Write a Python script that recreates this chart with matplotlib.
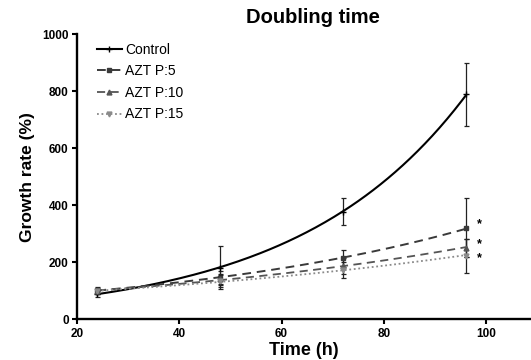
"""
Doubling time: growth rate (%) over time for control and AZT passages.

Points are means with error bars, curves are exponential fits through them.

Output:
    out.png
"""

import numpy as np
import matplotlib
matplotlib.use("Agg")
import matplotlib.pyplot as plt
from matplotlib.lines import Line2D


# ---------------------------------------------------------------------
# Plot style
# ---------------------------------------------------------------------

plt.rcParams.update({
    "font.family": ["Liberation Sans", "DejaVu Sans"],
    "axes.linewidth": 1.7,
    "axes.spines.top": False,
    "axes.spines.right": False,
})


# ---------------------------------------------------------------------
# Data
# ---------------------------------------------------------------------

time_h = [24, 48, 72, 96]

series_names = ["Control", "AZT P:5", "AZT P:10", "AZT P:15"]

control_mean = [89, 181, 377, 789]
control_err = [10, 76, 47, 111]

azt5_mean = [102, 146, 214, 321]
azt5_err = [10, 22, 30, 104]

azt10_mean = [100, 140, 187, 251]
azt10_err = [10, 20, 28, 31]

azt15_mean = [98, 135, 173, 222]
azt15_err = [10, 20, 28, 60]

# significance stars at 96 h, one per AZT series
star_x = 98.8
star_y = [334, 264, 214]

x_ticks = [20, 40, 60, 80, 100]
y_ticks = [0, 200, 400, 600, 800, 1000]


# ---------------------------------------------------------------------
# Plot
# ---------------------------------------------------------------------

means = [control_mean, azt5_mean, azt10_mean, azt15_mean]
errors = [control_err, azt5_err, azt10_err, azt15_err]

styles = [
    dict(color="black", ls="-", marker="+", ms=4, lw=1.5),
    dict(color="#3a3a3a", ls=(0, (4.5, 3)), marker="s", ms=3.5, lw=1.4),
    dict(color="#555555", ls=(0, (4.5, 3)), marker="^", ms=3.5, lw=1.3),
    dict(color="#8a8a8a", ls=(0, (1, 1.5)), marker="v", ms=3.5, lw=1.3),
]

fig = plt.figure(figsize=(5.31, 3.6), dpi=100)
ax = fig.add_axes([0.145, 0.113, 0.855, 0.792])

t = np.array(time_h, dtype=float)
t_fine = np.linspace(t.min(), t.max(), 200)

for mean, err, st in zip(means, errors, styles):
    y = np.array(mean, dtype=float)

    # exponential fit through the means
    k, log_a = np.polyfit(t, np.log(y), 1)
    ax.plot(t_fine, np.exp(log_a + k * t_fine), color=st["color"],
            linestyle=st["ls"], linewidth=st["lw"], zorder=2)

    ax.errorbar(t, y, yerr=err, fmt=st["marker"], color=st["color"],
                ms=st["ms"], ecolor="#222222", elinewidth=0.9,
                capsize=1.8, capthick=0.9, zorder=3)

for sy in star_y:
    ax.text(star_x, sy, "*", ha="center", va="center",
            fontsize=9, fontweight="bold")

ax.set_xlim(20, 108.8)
ax.set_ylim(0, 1000)
ax.set_xticks(x_ticks)
ax.set_yticks(y_ticks)
ax.tick_params(axis="both", direction="out", length=3.5, width=1.5,
               labelsize=8.5, pad=2.5)
for label in ax.get_xticklabels() + ax.get_yticklabels():
    label.set_fontweight("bold")

ax.set_xlabel("Time (h)", fontsize=13, fontweight="bold", labelpad=1.5)
ax.set_ylabel("Growth rate (%)", fontsize=12.5, fontweight="bold",
              labelpad=5)

fig.text(0.59, 0.925, "Doubling time", ha="center", va="bottom",
         fontsize=14.5, fontweight="bold")

handles = [
    Line2D([], [], color=st["color"], linestyle=st["ls"], linewidth=st["lw"],
           marker=st["marker"], ms=st["ms"])
    for st in styles
]
ax.legend(handles, series_names, loc="upper left",
          bbox_to_anchor=(0.025, 1.0), frameon=False, fontsize=10,
          handlelength=1.8, handletextpad=0.25, labelspacing=0.55,
          borderaxespad=0.2)

fig.savefig("out.png", dpi=100)
